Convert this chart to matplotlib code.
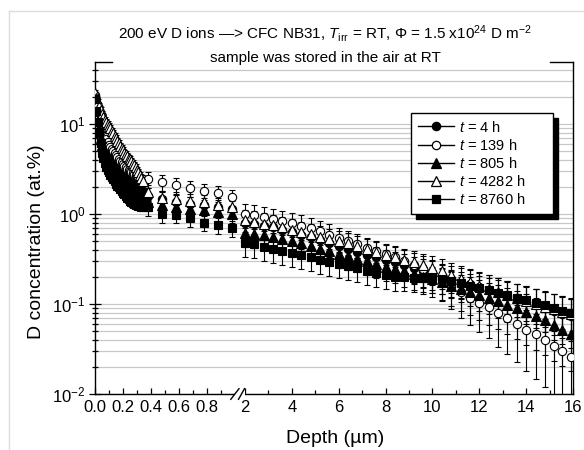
import numpy as np
import matplotlib
matplotlib.use("Agg")
import matplotlib.pyplot as plt
from matplotlib.lines import Line2D
from matplotlib.patches import Rectangle
from matplotlib.ticker import LogLocator, NullFormatter

plt.rcParams['font.family'] = ['Liberation Sans', 'DejaVu Sans']
plt.rcParams['mathtext.fontset'] = 'custom'
plt.rcParams['mathtext.rm'] = 'Liberation Sans'
plt.rcParams['mathtext.it'] = 'Liberation Sans:italic'
plt.rcParams['mathtext.sf'] = 'Liberation Sans'

# ---------------- data ----------------
depth_left = [0.00, 0.01, 0.02, 0.03, 0.04, 0.05, 0.06, 0.07, 0.08, 0.09, 0.10, 0.11, 0.12,
              0.13, 0.14, 0.15, 0.16, 0.17, 0.18, 0.19, 0.20, 0.21, 0.22, 0.23, 0.24, 0.25,
              0.26, 0.27, 0.28, 0.29, 0.30, 0.31, 0.32, 0.33, 0.34,
              0.38, 0.48, 0.58, 0.68, 0.78, 0.88, 0.98]
depth_right = [2.0, 2.4, 2.8, 3.2, 3.6, 4.0, 4.4, 4.8, 5.2, 5.6, 6.0, 6.4, 6.8, 7.2, 7.6, 8.0,
               8.4, 8.8, 9.2, 9.6, 10.0, 10.4, 10.8, 11.2, 11.6, 12.0, 12.4, 12.8, 13.2, 13.6,
               14.0, 14.4, 14.8, 15.2, 15.55, 15.9]

conc_4h_left = [20, 15.5, 12.5, 10.3, 8.7, 7.5, 6.6, 5.9, 5.4, 5.0, 4.7, 4.45, 4.2, 3.95, 3.72,
                3.52, 3.34, 3.18, 3.03, 2.9, 2.78, 2.67, 2.57, 2.48, 2.4, 2.33, 2.26, 2.2, 2.14,
                2.08, 2.02, 1.96, 1.9, 1.85, 1.8,
                1.6, 1.45, 1.35, 1.3, 1.25, 1.2, 1.15]
conc_139h_left = [21, 17, 14, 11.8, 10.2, 9.0, 8.1, 7.4, 6.8, 6.3, 5.9, 5.6, 5.3, 5.0, 4.75, 4.5,
                  4.3, 4.1, 3.9, 3.75, 3.6, 3.45, 3.32, 3.2, 3.08, 2.98, 2.9, 2.82, 2.75, 2.68,
                  2.62, 2.57, 2.52, 2.48, 2.45,
                  2.45, 2.25, 2.1, 1.95, 1.8, 1.7, 1.55]
conc_805h_left = [19.5, 14, 11, 8.8, 7.0, 5.9, 5.1, 4.5, 4.1, 3.8, 3.55, 3.35, 3.15, 2.97, 2.8,
                  2.65, 2.52, 2.4, 2.3, 2.2, 2.12, 2.04, 1.97, 1.91, 1.85, 1.8, 1.75, 1.7, 1.66,
                  1.62, 1.58, 1.55, 1.52, 1.49, 1.46,
                  1.35, 1.25, 1.2, 1.15, 1.1, 1.05, 1.0]
conc_4282h_left = [22, 19.5, 17.5, 15.7, 14.2, 13.0, 12.0, 11.2, 10.6, 10.1, 9.6, 9.0, 8.4, 7.9,
                   7.4, 6.9, 6.5, 6.1, 5.7, 5.4, 5.1, 4.8, 4.6, 4.4, 4.2, 4.05, 3.9, 3.7, 3.5,
                   3.3, 3.1, 2.9, 2.7, 2.5, 2.3,
                   1.75, 1.5, 1.45, 1.4, 1.35, 1.25, 1.2]
conc_8760h_left = [19, 14, 10.5, 8.0, 6.1, 4.8, 4.2, 3.7, 3.35, 3.1, 2.9, 2.72, 2.58, 2.44, 2.3,
                   2.18, 2.07, 1.97, 1.88, 1.8, 1.72, 1.65, 1.58, 1.52, 1.46, 1.4, 1.35, 1.32,
                   1.29, 1.27, 1.25, 1.23, 1.22, 1.21, 1.2,
                   1.2, 1.0, 0.98, 0.9, 0.8, 0.75, 0.7]

conc_4h_right = [0.80, 0.77, 0.74, 0.71, 0.67, 0.63, 0.59, 0.55, 0.51, 0.47, 0.44, 0.41, 0.38,
                 0.35, 0.33, 0.31, 0.29, 0.27, 0.25, 0.235, 0.22, 0.205, 0.19, 0.177, 0.165,
                 0.153, 0.142, 0.132, 0.122, 0.113, 0.105, 0.097, 0.090, 0.084, 0.078, 0.073]
conc_139h_right = [1.00, 0.97, 0.93, 0.88, 0.84, 0.79, 0.74, 0.69, 0.64, 0.59, 0.54, 0.50, 0.46,
                   0.42, 0.39, 0.36, 0.33, 0.30, 0.27, 0.245, 0.22, 0.19, 0.16, 0.135, 0.118,
                   0.103, 0.092, 0.080, 0.070, 0.060, 0.052, 0.046, 0.040, 0.034, 0.030, 0.026]
conc_805h_right = [0.62, 0.60, 0.58, 0.56, 0.53, 0.50, 0.47, 0.44, 0.41, 0.385, 0.36, 0.34, 0.32,
                   0.30, 0.28, 0.26, 0.245, 0.23, 0.215, 0.20, 0.19, 0.175, 0.16, 0.148, 0.137,
                   0.126, 0.116, 0.107, 0.098, 0.090, 0.082, 0.074, 0.066, 0.058, 0.052, 0.047]
conc_4282h_right = [0.85, 0.82, 0.78, 0.75, 0.71, 0.67, 0.63, 0.60, 0.56, 0.53, 0.50, 0.47, 0.44,
                    0.41, 0.38, 0.35, 0.33, 0.31, 0.29, 0.27, 0.25, 0.23, 0.21, 0.19, 0.175,
                    0.16, 0.148, 0.137, 0.126, 0.117, 0.108, 0.100, 0.093, 0.087, 0.082, 0.077]
conc_8760h_right = [0.48, 0.46, 0.43, 0.41, 0.39, 0.37, 0.35, 0.33, 0.31, 0.295, 0.28, 0.265,
                    0.25, 0.235, 0.22, 0.21, 0.20, 0.197, 0.195, 0.195, 0.193, 0.19, 0.18, 0.17,
                    0.16, 0.15, 0.142, 0.134, 0.126, 0.118, 0.11, 0.103, 0.097, 0.09, 0.084, 0.079]

# relative uncertainties
rel_err_left = [0.08, 0.08, 0.08, 0.08, 0.08, 0.08, 0.08, 0.08, 0.08, 0.08, 0.08, 0.08, 0.08,
                0.08, 0.08, 0.08, 0.08, 0.08, 0.08, 0.08, 0.08, 0.08, 0.08, 0.08, 0.08, 0.08,
                0.08, 0.08, 0.08, 0.08, 0.08, 0.08, 0.08, 0.08, 0.08,
                0.2, 0.2, 0.2, 0.2, 0.2, 0.2, 0.2]
rel_err_4h_right = [0.3, 0.3, 0.3, 0.3, 0.3, 0.3, 0.3, 0.3, 0.3, 0.3, 0.3, 0.3, 0.3, 0.3, 0.3,
                    0.3, 0.31, 0.32, 0.33, 0.34, 0.35, 0.37, 0.39, 0.41, 0.43, 0.45, 0.46, 0.47,
                    0.48, 0.49, 0.50, 0.51, 0.52, 0.53, 0.54, 0.55]
rel_err_139h_right = [0.3, 0.3, 0.3, 0.3, 0.3, 0.3, 0.3, 0.3, 0.3, 0.3, 0.3, 0.3, 0.3, 0.3, 0.3,
                      0.3, 0.32, 0.34, 0.36, 0.38, 0.40, 0.42, 0.45, 0.48, 0.50, 0.52, 0.55, 0.58,
                      0.60, 0.62, 0.65, 0.68, 0.70, 0.72, 0.75, 0.78]
rel_err_805h_right = [0.3, 0.3, 0.3, 0.3, 0.3, 0.3, 0.3, 0.3, 0.3, 0.3, 0.3, 0.3, 0.3, 0.3, 0.3,
                      0.3, 0.31, 0.32, 0.33, 0.35, 0.37, 0.39, 0.41, 0.43, 0.45, 0.47, 0.49,
                      0.51, 0.53, 0.55, 0.57, 0.58, 0.59, 0.60, 0.61, 0.62]
rel_err_4282h_right = [0.3, 0.3, 0.3, 0.3, 0.3, 0.3, 0.3, 0.3, 0.3, 0.3, 0.3, 0.3, 0.3, 0.3, 0.3,
                       0.3, 0.31, 0.32, 0.33, 0.34, 0.35, 0.36, 0.37, 0.38, 0.39, 0.40, 0.41,
                       0.42, 0.43, 0.44, 0.45, 0.46, 0.47, 0.48, 0.49, 0.50]
rel_err_8760h_right = [0.3, 0.3, 0.3, 0.3, 0.3, 0.3, 0.3, 0.3, 0.3, 0.3, 0.3, 0.3, 0.3, 0.3, 0.3,
                       0.3, 0.3, 0.3, 0.3, 0.3, 0.31, 0.32, 0.33, 0.34, 0.35, 0.36, 0.37, 0.38,
                       0.39, 0.40, 0.41, 0.42, 0.43, 0.44, 0.45, 0.45]

series_labels = [r"$t$ = 4 h", r"$t$ = 139 h", r"$t$ = 805 h", r"$t$ = 4282 h", r"$t$ = 8760 h"]
x_major_ticks = [0.0, 0.2, 0.4, 0.6, 0.8, 2, 4, 6, 8, 10, 12, 14, 16]
x_major_labels = ["0.0", "0.2", "0.4", "0.6", "0.8", "2", "4", "6", "8", "10", "12", "14", "16"]
x_minor_ticks = [0.1, 0.3, 0.5, 0.7, 0.9, 3, 5, 7, 9, 11, 13, 15]

# ---------------- broken x scale ----------------
L_W = 140.0           # width of 0..1 um segment (px)
GAP = 10.0            # width of break (px)
R_S = 328.0 / 14.0    # px per um in 2..16 segment


def fwd(x):
    x = np.asarray(x, dtype=float)
    return np.where(x <= 1, x * L_W,
                    np.where(x < 2, L_W + (x - 1) * GAP, L_W + GAP + (x - 2) * R_S))


def inv(u):
    u = np.asarray(u, dtype=float)
    return np.where(u <= L_W, u / L_W,
                    np.where(u < L_W + GAP, 1 + (u - L_W) / GAP, 2 + (u - L_W - GAP) / R_S))


W, H = 584, 450
fig = plt.figure(figsize=(W / 100, H / 100), dpi=100)
ax = fig.add_axes([95 / W, 1 - 394 / H, 478 / W, 332 / H])
ax.set_xscale('function', functions=(fwd, inv))
ax.set_yscale('log')
ax.set_xlim(0, 16)
ax.set_ylim(0.01, 48.8)

styles = [
    ('o', 'black', conc_4h_left, conc_4h_right, rel_err_4h_right, 6.0),
    ('o', 'white', conc_139h_left, conc_139h_right, rel_err_139h_right, 6.0),
    ('^', 'black', conc_805h_left, conc_805h_right, rel_err_805h_right, 6.5),
    ('^', 'white', conc_4282h_left, conc_4282h_right, rel_err_4282h_right, 6.5),
    ('s', 'black', conc_8760h_left, conc_8760h_right, rel_err_8760h_right, 5.5),
]

for m, fc, cl, cr, er, ms in styles:
    for d, c, rel in ((depth_left, cl, rel_err_left), (depth_right, cr, er)):
        c = np.asarray(c, dtype=float)
        e = c * np.asarray(rel, dtype=float)
        ax.errorbar(d, c, yerr=e, fmt=m, ms=ms, mfc=fc, mec='black', mew=0.8,
                    ecolor='black', elinewidth=0.8, capsize=2, capthick=0.8, ls='none',
                    zorder=3)

# ticks
ax.set_xticks(x_major_ticks)
ax.set_xticklabels(x_major_labels)
ax.set_xticks(x_minor_ticks, minor=True)
ax.yaxis.set_major_locator(LogLocator(base=10, numticks=10))
ax.yaxis.set_minor_locator(LogLocator(base=10, subs=np.arange(2, 10), numticks=20))
ax.yaxis.set_minor_formatter(NullFormatter())
ax.tick_params(axis='x', which='major', direction='in', length=4, width=0.9, labelsize=12, pad=4)
ax.tick_params(axis='x', which='minor', direction='in', length=3, width=0.9)
ax.tick_params(axis='y', which='major', direction='inout', length=8, width=0.9, labelsize=12, pad=3)
ax.tick_params(axis='y', which='minor', direction='inout', length=5, width=0.9)

ax.grid(True, axis='y', which='both', color='#c8c8c8', lw=0.9)
ax.set_axisbelow(True)

for s in ('left', 'bottom', 'right'):
    ax.spines[s].set_linewidth(1.0)
ax.spines['top'].set_visible(False)
ax.plot([0, 0.12], [1, 1], transform=ax.get_xaxis_transform(), color='black', lw=1.0,
        clip_on=False, zorder=5)
ax.plot([15.02, 16], [1, 1], transform=ax.get_xaxis_transform(), color='black', lw=1.0,
        clip_on=False, zorder=5)

# axis break
trans = ax.get_xaxis_transform()
ax.add_patch(Rectangle((1.0, -0.01), 1.0, 0.02, transform=trans, facecolor='white',
                       edgecolor='none', clip_on=False, zorder=5))
ax.plot([0.97, 1.4], [-0.016, 0.016], transform=trans, color='black', lw=1.0,
        clip_on=False, zorder=6)
ax.plot([1.35, 1.95], [-0.016, 0.016], transform=trans, color='black', lw=1.0,
        clip_on=False, zorder=6)

# labels
ax.set_ylabel("D concentration (at.%)", fontsize=14)
ax.yaxis.set_label_coords(-0.105, 0.458)
ax.set_xlabel("Depth (\u00b5m)", fontsize=14)
ax.xaxis.set_label_coords(0.502, -0.108)

title1 = ("200 eV D ions \u2014> CFC NB31, $T_{\\mathrm{irr}}$ = RT, "
          "\u03a6 = 1.5 x10$^{24}$ D m$^{-2}$")
fig.text(325 / W, 1 - 33 / H, title1, ha='center', va='center', fontsize=11)
fig.text(325 / W, 1 - 58 / H, "sample was stored in the air at RT",
         ha='center', va='center', fontsize=11)

# legend
handles = [Line2D([0], [0], color='black', lw=1.0, marker=m, ms=ms, mfc=fc, mec='black',
                  mew=0.9) for m, fc, _, _, _, ms in styles]
padded_labels = [lab + "      " for lab in series_labels]
leg = ax.legend(handles, padded_labels, loc='upper right',
                bbox_to_anchor=((553 - 95) / 478, (394 - 113) / 332),
                fontsize=10.5, frameon=True, fancybox=False,
                shadow={'color': 'black', 'alpha': 1.0, 'ox': 3.5, 'oy': -3.5},
                edgecolor='black', framealpha=1, handlelength=2.5, handletextpad=0.3,
                borderpad=0.45, labelspacing=0.22, borderaxespad=0)
leg.get_frame().set_linewidth(1.0)

# page border lines seen in the scan
fig.add_artist(Line2D([9 / W, 1], [1 - 11 / H, 1 - 11 / H], transform=fig.transFigure,
                      color='#dcdcdc', lw=1))
fig.add_artist(Line2D([9 / W, 9 / W], [0, 1 - 11 / H], transform=fig.transFigure,
                      color='#dcdcdc', lw=1))

fig.savefig("out.png", dpi=100)
